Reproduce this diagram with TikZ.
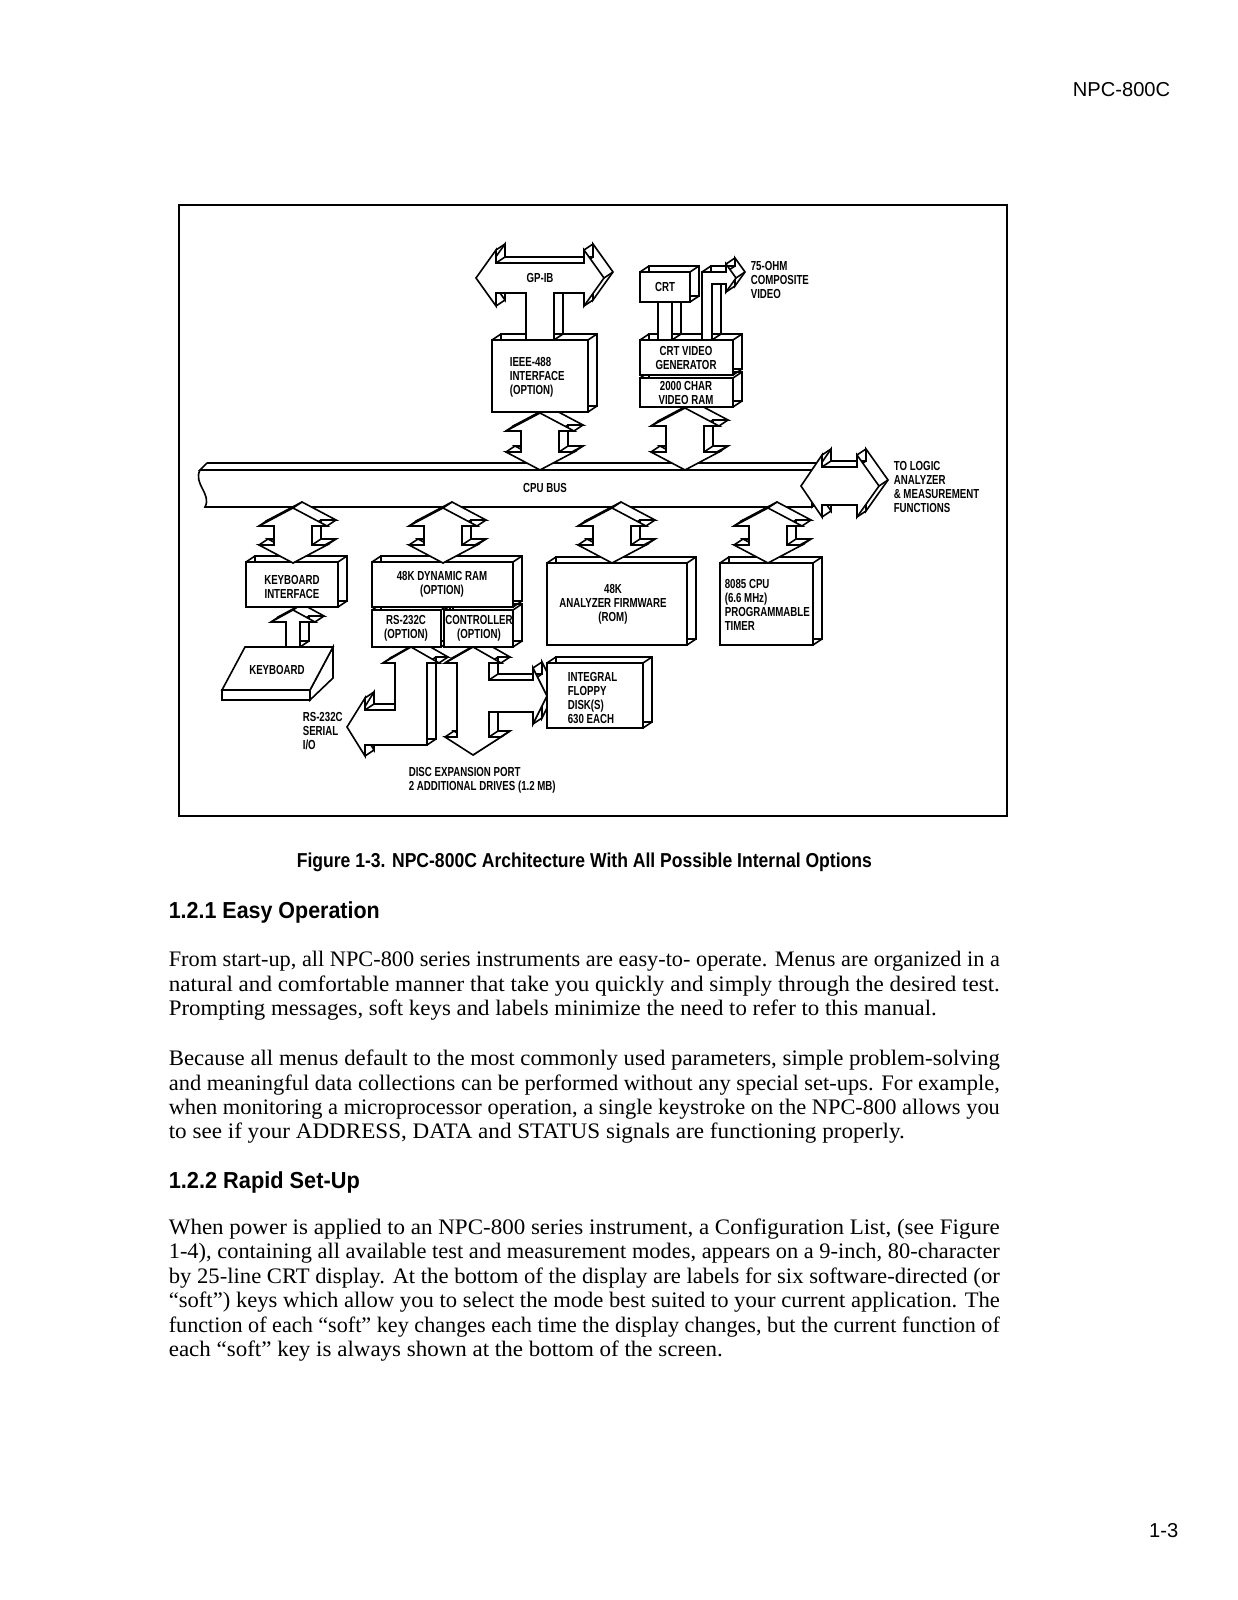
\documentclass[tikz,border=0pt]{standalone}
\usepackage{fontspec}
\usepackage{graphicx}
\setmainfont{Liberation Serif}
\setsansfont{Liberation Sans}
\newfontfamily\dgfont{Liberation Sans}[FakeStretch=0.74]
\newlength\pxu \setlength\pxu{0.01746cm}
\def\dx{9}\def\dy{6}
\def\hw{34}\def\sw{19}\def\hh{18}

% extruded outline from a list of x/y corners
\newcommand\prism[1]{%
  \gdef\prpath{}%
  \foreach \ptx/\pty [count=\ptn] in {#1}{%
    \ifnum\ptn=1 \xdef\prpath{(\ptx,\pty)}\else\xdef\prpath{\prpath -- (\ptx,\pty)}\fi}%
  \draw[fill=white, shift={(\dx,-\dy)}] \prpath -- cycle;
  \foreach \ptx/\pty in {#1} \draw (\ptx,\pty) -- ++(\dx,-\dy);
  \draw[fill=white] \prpath -- cycle;
}
% 3d box: x1 y1 x2 y2 of the front face
\newcommand\cube[4]{\prism{#1/#2,#3/#2,#3/#4,#1/#4}}
% vertical double block arrow: centre x, top tip, bottom tip
\newcommand\vdarrow[3]{\prism{#1/#2, #1+\hw/#2+\hh, #1+\sw/#2+\hh, #1+\sw/#3-\hh,
  #1+\hw/#3-\hh, #1/#3, #1-\hw/#3-\hh, #1-\sw/#3-\hh, #1-\sw/#2+\hh, #1-\hw/#2+\hh}}
% one line of running text, full width / given width
\newcommand\fline[3]{\node[body] (#1) at (168,#2) {\resizebox{831\pxu}{\height}{#3}};}
\newcommand\lline[4]{\node[body] (#1) at (168,#2) {\resizebox{#3\pxu}{\height}{#4}};}

\tikzset{
  lbl/.style={font=\dgfont\bfseries\fontsize{6.5}{7}\selectfont, inner sep=0pt, align=center},
  lbll/.style={lbl, align=left, anchor=west},
  body/.style={font=\fontsize{11}{13}\selectfont, inner sep=0pt, anchor=base west},
  sect/.style={font=\sffamily\bfseries\fontsize{11.5}{13}\selectfont, inner sep=0pt, anchor=base west},
  pgtxt/.style={font=\sffamily\fontsize{10}{12}\selectfont, inner sep=0pt, anchor=base east}
}

\begin{document}
\begin{tikzpicture}[x=0.01746cm, y=-0.01746cm, line width=0.8pt, line join=miter]
\useasboundingbox (0,0) rectangle (1237,1600);

% header
\node[pgtxt] (hdr) at (1171,97) {NPC-800C};

% frame
\draw[line width=1.1pt] (179,205) rectangle (1007,816);

% CPU bus
\draw[fill=white] (207,463) -- (822,463) -- (812,470) -- (200,470) .. controls (203,467) .. (207,463);
\draw[fill=white] (822,463) -- (822,500) -- (812,507) -- (812,470) -- cycle;
\draw[fill=white] (200,470) -- (812,470) -- (812,507) -- (205,507)
  .. controls (212,494) and (193,484) .. (200,470);

% arrows up to the bus
\vdarrow{540}{413}{470}
\vdarrow{685}{408}{470}

% upper boxes
\cube{492}{340}{588}{412}
\cube{640}{378}{733}{407}
\cube{640}{340}{733}{375}

% GP-IB bus with stem
\prism{476/278, 496/250, 496/263, 584/263, 584/250, 604/278, 584/306, 584/293,
  554/293, 554/340, 526/340, 526/293, 496/293, 496/306}
% video output and CRT link
\prism{702/340, 702/272, 726/272, 726/264, 736/278, 726/292, 726/284, 712/284, 712/340}
\cube{658}{302}{672}{340}
\cube{640}{272}{690}{302}

% keyboard
\draw[fill=white] (333,647) -- (333,678) -- (310,700) -- (310,690) -- cycle;
\draw[fill=white] (222,690) -- (310,690) -- (310,700) -- (222,700) -- cycle;
\draw[fill=white] (245,647) -- (333,647) -- (310,690) -- (222,690) -- cycle;

% keyboard link
\prism{293/610, 315/622, 300/622, 300/647, 286/647, 286/622, 271/622}
% RS-232C serial
\prism{411/647, 439/663, 427/663, 427/745, 365/745, 365/756, 347/727, 365/698,
  365/710, 395/710, 395/663, 383/663}
% disc controller
\prism{473/647, 501/663, 489/663, 489/680, 533/680, 533/668, 547/696, 533/724,
  533/712, 489/712, 489/737, 501/737, 473/755, 445/737, 457/737, 457/663, 445/663}

% lower boxes
\cube{246}{562}{338}{607}
\cube{372}{610}{441}{647}
\cube{444}{610}{513}{647}
\cube{372}{562}{513}{607}
\cube{547}{563}{687}{645}
\cube{720}{563}{813}{645}
\cube{547}{663}{643}{728}

% arrows down from the bus
\foreach \cx in {293,443,612,768} {\vdarrow{\cx}{508}{563}}

% to logic analyzer
\prism{801/486, 822/455, 822/467, 857/467, 857/455, 879/486, 857/517, 857/505,
  822/505, 822/517}

% labels
\node[lbl] (gpib) at (540,278) {GP-IB};
\node[lbll] (ieee) at (509,377) {IEEE-488\\INTERFACE\\(OPTION)};
\node[lbl] (crt) at (665,287) {CRT};
\node[lbll] (ohm) at (750,280) {75-OHM\\COMPOSITE\\VIDEO};
\node[lbl] (crtgen) at (686,358) {CRT VIDEO\\GENERATOR};
\node[lbl] (vram) at (686,393) {2000 CHAR\\VIDEO RAM};
\node[lbl] (cpubus) at (545,488) {CPU BUS};
\node[lbll] (tologic) at (893,487) {TO LOGIC\\ANALYZER\\\& MEASUREMENT\\FUNCTIONS};
\node[lbl] (kbdif) at (292,587) {KEYBOARD\\INTERFACE};
\node[lbl] (dram) at (442,584) {48K DYNAMIC RAM\\(OPTION)};
\node[lbl] (rs) at (406,628) {RS-232C\\(OPTION)};
\node[lbl] (ctrl) at (479,628) {CONTROLLER\\(OPTION)};
\node[lbl] (rom) at (613,604) {48K\\ANALYZER FIRMWARE\\(ROM)};
\node[lbll] (cpu) at (724,605) {8085 CPU\\(6.6 MHz)\\PROGRAMMABLE\\TIMER};
\node[lbl] (kbd) at (277,670) {KEYBOARD};
\node[lbll] (floppy) at (567,698) {INTEGRAL\\FLOPPY\\DISK(S)\\630 EACH};
\node[lbll] (serial) at (302,731) {RS-232C\\SERIAL\\I/O};
\node[lbll] (disc) at (408,780) {DISC EXPANSION PORT\\2 ADDITIONAL DRIVES (1.2 MB)};

% caption
\node[sect, font=\sffamily\bfseries\fontsize{10}{12}\selectfont] (cap) at (296,867)
  {\resizebox{575\pxu}{\height}{Figure 1-3. NPC-800C Architecture With All Possible Internal Options}};

% 1.2.1
\node[sect] (sec1) at (168,918) {\resizebox{211\pxu}{\height}{1.2.1 Easy Operation}};
\fline{p1a}{966}{From start-up, all NPC-800 series instruments are easy-to- operate. Menus are organized in a}
\fline{p1b}{991}{natural and comfortable manner that take you quickly and simply through the desired test.}
\lline{p1c}{1015}{768}{Prompting messages, soft keys and labels minimize the need to refer to this manual.}
\fline{p2a}{1065}{Because all menus default to the most commonly used parameters, simple problem-solving}
\fline{p2b}{1090}{and meaningful data collections can be performed without any special set-ups. For example,}
\fline{p2c}{1114}{when monitoring a microprocessor operation, a single keystroke on the NPC-800 allows you}
\lline{p2d}{1138}{736}{to see if your ADDRESS, DATA and STATUS signals are functioning properly.}

% 1.2.2
\node[sect] (sec2) at (168,1188) {\resizebox{191\pxu}{\height}{1.2.2 Rapid Set-Up}};
\fline{p3a}{1234}{When power is applied to an NPC-800 series instrument, a Configuration List, (see Figure}
\fline{p3b}{1258}{1-4), containing all available test and measurement modes, appears on a 9-inch, 80-character}
\fline{p3c}{1283}{by 25-line CRT display. At the bottom of the display are labels for six software-directed (or}
\fline{p3d}{1307}{“soft”) keys which allow you to select the mode best suited to your current application. The}
\fline{p3e}{1332}{function of each “soft” key changes each time the display changes, but the current function of}
\lline{p3f}{1356}{554}{each “soft” key is always shown at the bottom of the screen.}

% page number
\node[pgtxt] (pgno) at (1179,1537) {1-3};
\end{tikzpicture}
\end{document}
